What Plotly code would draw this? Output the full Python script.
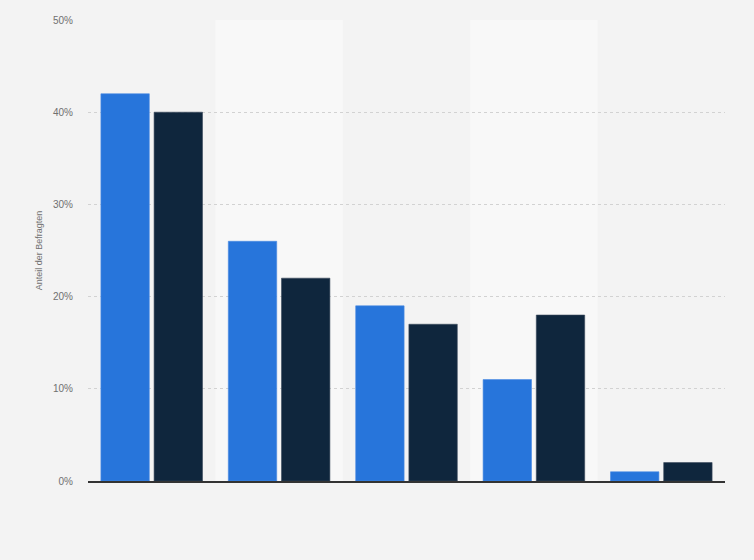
import plotly.graph_objects as go

# categories (x labels not shown in the reference)
categories = ['Kategorie 1', 'Kategorie 2', 'Kategorie 3', 'Kategorie 4', 'Kategorie 5']
series_a = [42, 26, 19, 11, 1]
series_b = [40, 22, 17, 18, 2]
y_ticks = [0, 10, 20, 30, 40, 50]
y_tick_labels = ['0%', '10%', '20%', '30%', '40%', '50%']

fig = go.Figure()
fig.add_trace(go.Bar(x=categories, y=series_a, name='Serie 1',
                     marker=dict(color='#2775db', line=dict(color='#4a8ae3', width=0.6))))
fig.add_trace(go.Bar(x=categories, y=series_b, name='Serie 2',
                     marker=dict(color='#0f263d', line=dict(color='#3a4a5c', width=0.6))))

# lighter alternating column bands
shapes = []
for i in range(len(categories)):
    if i % 2 == 1:
        shapes.append(dict(type='rect', xref='x', yref='paper', x0=i - 0.5, x1=i + 0.5,
                           y0=0, y1=1, fillcolor='#f8f8f8', line=dict(width=0), layer='below'))

fig.update_layout(
    width=754, height=560,
    paper_bgcolor='#f3f3f3', plot_bgcolor='#f3f3f3',
    margin=dict(l=88, r=29, t=20, b=79),
    barmode='group', bargap=0.165, bargroupgap=0.09,
    showlegend=False,
    shapes=shapes,
    font=dict(family='Arial, Liberation Sans, sans-serif', color='#666666'),
)
fig.update_xaxes(showticklabels=False, showgrid=False, ticks='', showline=True,
                 linecolor='#333333', linewidth=1.5, zeroline=False)
fig.update_yaxes(range=[0, 50], tickvals=y_ticks, ticktext=y_tick_labels,
                 tickfont=dict(size=10, color='#707070'), showgrid=True,
                 gridcolor='#d2d2d2', griddash='dot', gridwidth=1, zeroline=False,
                 ticks='', ticklen=0, ticklabelstandoff=14,
                 title=dict(text='Anteil der Befragten', font=dict(size=9, color='#707070'), standoff=8))

# remove the default page margin so the chart fills the window
fig.write_html("out.html", config={'displayModeBar': False},
               post_script="document.body.style.margin='0';")
